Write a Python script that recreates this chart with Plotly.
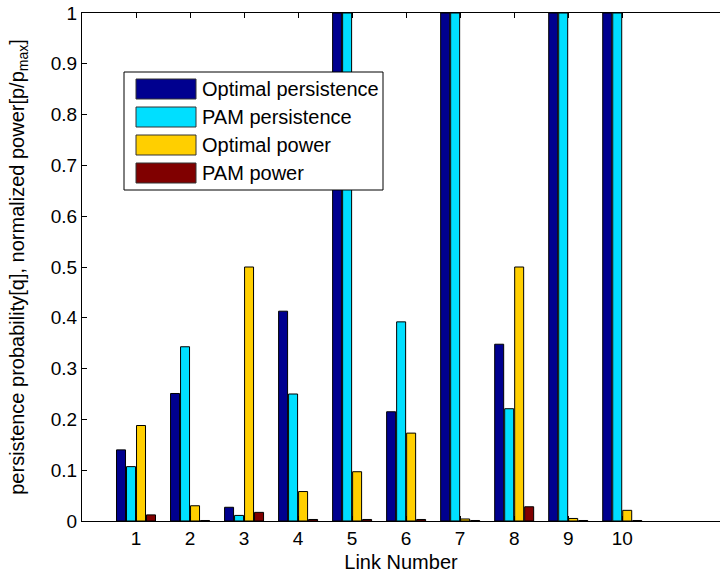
import plotly.graph_objects as go

links = [1, 2, 3, 4, 5, 6, 7, 8, 9, 10]
series_names = ["Optimal persistence", "PAM persistence", "Optimal power", "PAM power"]
optimal_persistence = [0.140, 0.251, 0.027, 0.413, 1.0, 0.215, 1.0, 0.348, 1.0, 1.0]
pam_persistence = [0.107, 0.343, 0.011, 0.250, 1.0, 0.392, 1.0, 0.221, 1.0, 1.0]
optimal_power = [0.188, 0.030, 0.500, 0.058, 0.097, 0.173, 0.004, 0.500, 0.005, 0.021]
pam_power = [0.012, 0.001, 0.017, 0.003, 0.003, 0.003, 0.001, 0.028, 0.001, 0.001]
colors = ["#00008F", "#00DFFF", "#FFCF00", "#800000"]
y_ticks = [0, 0.1, 0.2, 0.3, 0.4, 0.5, 0.6, 0.7, 0.8, 0.9, 1]

FONT = "Liberation Sans, Arial, Helvetica, sans-serif"
W, H = 720, 574
L, R, T, B = 82, 0, 13, 53

fig = go.Figure()
for name, vals, col in zip(series_names,
                           [optimal_persistence, pam_persistence, optimal_power, pam_power],
                           colors):
    fig.add_trace(go.Bar(x=links, y=vals, name=name,
                         marker=dict(color=col, line=dict(color="black", width=1)),
                         showlegend=False))

# manual legend (MATLAB-style wide swatches)
pw, ph = W - L - R, H - T - B
def px(x):
    return (x - L) / pw
def py(y):
    return (H - B - y) / ph

fig.add_shape(type="rect", xref="paper", yref="paper",
              x0=px(124), x1=px(383), y0=py(190), y1=py(72),
              line=dict(color="black", width=1), fillcolor="white", layer="above")
for i, (name, col) in enumerate(zip(series_names, colors)):
    cy = 89 + 28 * i
    fig.add_shape(type="rect", xref="paper", yref="paper",
                  x0=px(136), x1=px(196), y0=py(cy + 10), y1=py(cy - 10),
                  line=dict(color="#333333", width=1), fillcolor=col, layer="above")
    fig.add_annotation(xref="paper", yref="paper", x=px(200), y=py(cy),
                       text=name, showarrow=False, xanchor="left", yanchor="middle",
                       font=dict(family=FONT, size=20, color="black"))

fig.update_layout(
    width=W, height=H,
    margin=dict(l=L, r=R, t=T, b=B, pad=0),
    paper_bgcolor="white", plot_bgcolor="white",
    barmode="group", bargap=0.26, bargroupgap=0.1,
    font=dict(family=FONT, size=19, color="black"),
    showlegend=False,
)
fig.update_xaxes(range=[0, 11.81], tickvals=links, ticktext=[str(v) for v in links],
                 ticks="inside", ticklen=5, tickcolor="black",
                 showline=True, linecolor="black", linewidth=1, mirror="ticks",
                 showgrid=False, zeroline=False,
                 title=dict(text="Link Number", font=dict(size=20), standoff=7))
fig.update_yaxes(range=[0, 1], tickvals=y_ticks,
                 ticktext=[f"{v:g}" for v in y_ticks],
                 ticks="inside", ticklen=5, tickcolor="black",
                 showline=True, linecolor="black", linewidth=1, mirror=False,
                 showgrid=False, zeroline=False,
                 title=dict(text="persistence probability[q], normalized power[p/p<sub>max</sub>]",
                            font=dict(size=20), standoff=20))

fig.write_html("out.html")
